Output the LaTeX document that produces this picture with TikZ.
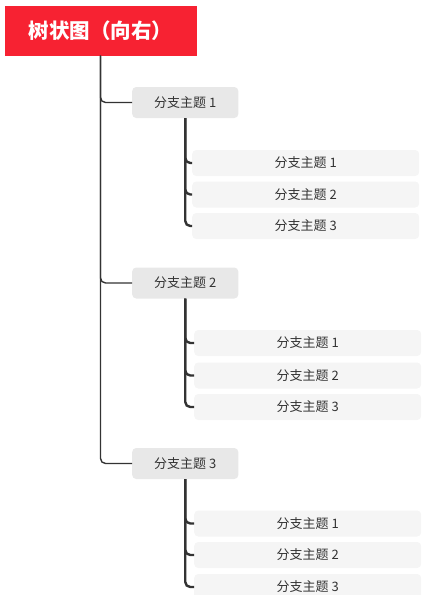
\documentclass[tikz,border=0pt]{standalone}
\usepackage{fontspec}
\setmainfont{Noto Sans CJK SC}
\usetikzlibrary{positioning}
\definecolor{rootred}{HTML}{F72232}
\definecolor{maingray}{HTML}{E8E8E8}
\definecolor{subgray}{HTML}{F5F5F5}
\definecolor{linegray}{HTML}{333333}
\tikzset{
	roottopic/.style={fill=rootred,text=white,font=\fontsize{20.5}{24}\selectfont\bfseries,minimum width=192pt,minimum height=50pt,inner sep=0pt},
	maintopic/.style={fill=maingray,text=linegray,font=\fontsize{13}{15}\selectfont,rounded corners=4pt,minimum height=31pt,inner xsep=22pt,anchor=west},
	subtopic/.style={fill=subgray,text=linegray,font=\fontsize{13}{15}\selectfont,rounded corners=4pt,minimum height=26pt,minimum width=227pt,anchor=west},
	trunk/.style={draw=linegray,line width=1.4pt,rounded corners=5pt},
	twig/.style={draw=linegray,line width=2.4pt,rounded corners=5pt}
}
\begin{document}
\begin{tikzpicture}[x=1pt,y=-1pt]
	\useasboundingbox (0,0) rectangle (427,595); %page
	
	%root
	\node[roottopic] (root) at (100.5,30.5) {树状图（向右）}; %root title
	
	%main topics
	\node[maintopic] (b1) at (132,102.5) {分支主题 1}; %branch 1
	\node[maintopic] (b2) at (132,283) {分支主题 2}; %branch 2
	\node[maintopic] (b3) at (132,463.5) {分支主题 3}; %branch 3
	
	%branch 1 subtopics--------------------------------
	\node[subtopic] (c11) at (192,163) {分支主题 1}; %sub 1
	\node[subtopic] (c12) at (192,194.5) {分支主题 2}; %sub 2
	\node[subtopic] (c13) at (192,226) {分支主题 3}; %sub 3
	
	%branch 2 subtopics--------------------------------
	\node[subtopic] (c21) at (194,343) {分支主题 1}; %sub 1
	\node[subtopic] (c22) at (194,375.5) {分支主题 2}; %sub 2
	\node[subtopic] (c23) at (194,407) {分支主题 3}; %sub 3
	
	%branch 3 subtopics--------------------------------
	\node[subtopic] (c31) at (194,523.5) {分支主题 1}; %sub 1
	\node[subtopic] (c32) at (194,555) {分支主题 2}; %sub 2
	\node[subtopic] (c33) at (194,587) {分支主题 3}; %sub 3
	
	%trunk lines
	\draw[trunk] (root.south) |- (b1.west); %to branch 1
	\draw[trunk] (root.south) |- (b2.west); %to branch 2
	\draw[trunk] (root.south) |- (b3.west); %to branch 3
	
	%twig lines
	\draw[twig] (b1.south) |- (c11.west); %branch 1
	\draw[twig] (b1.south) |- (c12.west);
	\draw[twig] (b1.south) |- (c13.west);
	\draw[twig] (b2.south) |- (c21.west); %branch 2
	\draw[twig] (b2.south) |- (c22.west);
	\draw[twig] (b2.south) |- (c23.west);
	\draw[twig] (b3.south) |- (c31.west); %branch 3
	\draw[twig] (b3.south) |- (c32.west);
	\draw[twig] (b3.south) |- (c33.west);
\end{tikzpicture}
\end{document}
